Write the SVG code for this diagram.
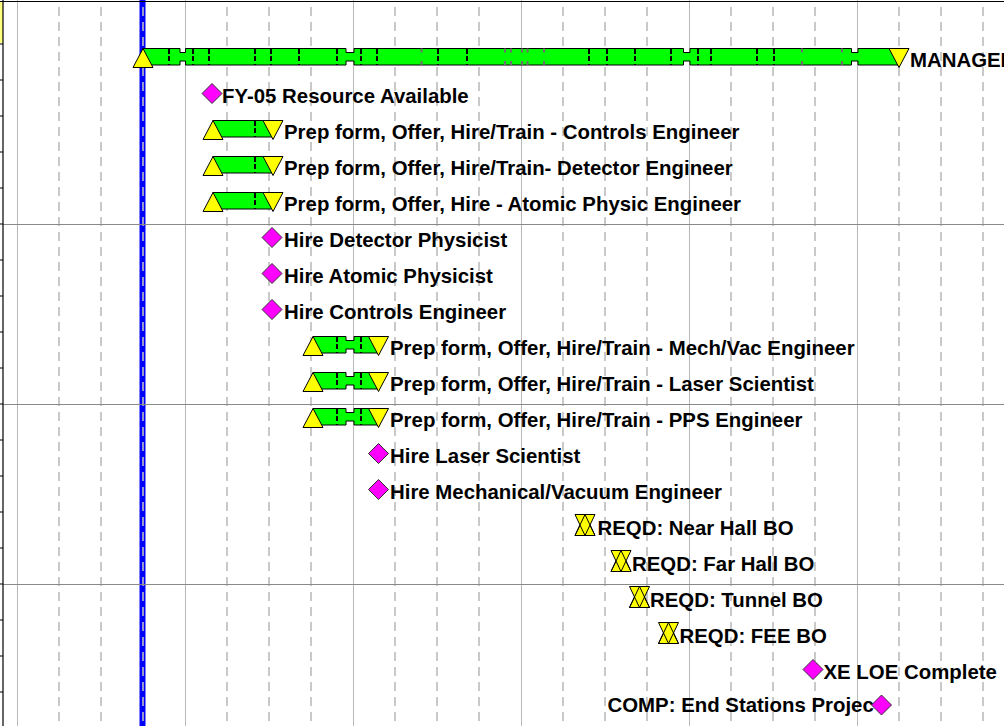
<svg xmlns="http://www.w3.org/2000/svg" xmlns:xlink="http://www.w3.org/1999/xlink" width="1004" height="726" viewBox="0 0 1004 726">
<style>
.lbl{font-family:"Liberation Sans",Arial,sans-serif;font-weight:bold;font-size:20.4px;fill:#000}
.grid-s{stroke:#b8b8b8;stroke-width:1;fill:none}
.grid-d{stroke:#bcbcbc;stroke-width:1.6;fill:none;stroke-dasharray:9,6}
.hline{stroke:#8a8a8a;stroke-width:1;fill:none}
.bar{fill:#00ff00;stroke:#000;stroke-width:1}
.tri{fill:#ffff00;stroke:#000;stroke-width:1;stroke-linejoin:miter}
.tri-o{fill:none;stroke:#000;stroke-width:1}
.dia{fill:#ff00ff;stroke:#333;stroke-width:1}
.tick{stroke:#000;stroke-width:2;stroke-dasharray:5,2.5;fill:none;shape-rendering:crispEdges}
.notch{fill:#6e6e6e}
</style>
<defs>
<path id="up" d="M-10,7.5 L10,7.5 L0,-11.5 Z"/>
<path id="dn" d="M-10,-11.5 L10,-11.5 L0,7.5 Z"/>
<path id="upH" d="M-10,7.5 L10,7.5 L0,-13.5 Z"/>
<path id="dnH" d="M-10,-13.5 L10,-13.5 L0,7.5 Z"/>
<path id="dia" d="M0,-10 L10,0 L0,10 L-10,0 Z"/>
<path id="bar2" d="M313,-11.5 H346 V-7.5 H354 V-11.5 H378.5 V5 H354 V1 H346 V5 H313 Z"/>
<path id="tk2" d="M336.5,-11.5 V5 M360.5,-11.5 V5"/>
<g id="hg">
<use xlink:href="#upH" class="tri"/>
<use xlink:href="#dnH" class="tri"/>
<use xlink:href="#upH" class="tri-o"/>
</g>
</defs>

<g id="background">
<rect x="0" y="0" width="1004" height="726" fill="#ffffff"/>
<rect x="0" y="2" width="3" height="41" fill="#ffff80"/>
<rect x="139.5" y="0" width="6" height="726" fill="#0000ff"/>
<path class="grid-s" d="M17.5,0V726 M185.5,0V726 M353.5,0V726 M521.5,0V726 M689.5,0V726 M857.5,0V726"/>
<path class="grid-d" d="M59,7V726 M101,7V726 M143,7V726 M227,7V726 M269,7V726 M311,7V726 M395,7V726 M437,7V726 M479,7V726 M563,7V726 M605,7V726 M647,7V726 M731,7V726 M773,7V726 M815,7V726 M899,7V726 M941,7V726 M983,7V726"/>
<path class="hline" d="M3,224.5H1004 M3,404.5H1004 M3,584.5H1004"/>
<path stroke="#000" stroke-width="1.2" fill="none" d="M0,1.5H1004 M3,0V726 M0,44H3 M0,80H3 M0,116H3 M0,152H3 M0,188H3 M0,224H3 M0,260H3 M0,296H3 M0,332H3 M0,368H3 M0,404H3 M0,440H3 M0,476H3 M0,512H3 M0,548H3 M0,584H3 M0,620H3 M0,656H3 M0,692H3"/>
</g>

<g id="n-management">
<path class="bar" d="M143,48.5 H180 V52.5 H185.5 V48.5 H346 V52.5 H354 V48.5 H683.5 V52.5 H690 V48.5 H851.5 V52.5 H858 V48.5 H899 V65 H858 V61 H851.5 V65 H690 V61 H683.5 V65 H354 V61 H346 V65 H185.5 V61 H180 V65 H143 Z"/>
<path class="tick" d="M169,48.5V65 M193,48.5V65 M209,48.5V65 M255,48.5V65 M271,48.5V65 M299,48.5V65 M337,48.5V65 M361,48.5V65 M377,48.5V65 M438,48.5V65 M467,48.5V65 M589,48.5V65 M607,48.5V65 M635,48.5V65 M671,48.5V65 M698,48.5V65 M711,48.5V65 M757,48.5V65 M774,48.5V65"/>
<g class="notch">
<rect x="420.5" y="48.5" width="2" height="4"/><rect x="420.5" y="61" width="2" height="4"/>
<rect x="504" y="48.5" width="2" height="4"/><rect x="504" y="61" width="2" height="4"/>
<rect x="510" y="48.5" width="2" height="4"/><rect x="510" y="61" width="2" height="4"/>
<rect x="521" y="48.5" width="2" height="4"/><rect x="521" y="61" width="2" height="4"/>
<rect x="526.5" y="48.5" width="2" height="4"/><rect x="526.5" y="61" width="2" height="4"/>
<rect x="543" y="48.5" width="2" height="4"/><rect x="543" y="61" width="2" height="4"/>
<rect x="801" y="48.5" width="2" height="4"/><rect x="801" y="61" width="2" height="4"/>
<rect x="841" y="48.5" width="2" height="4"/><rect x="841" y="61" width="2" height="4"/>
</g>
<use xlink:href="#up" class="tri" transform="translate(143,60)"/>
<use xlink:href="#dn" class="tri" transform="translate(899,60)"/>
<text class="lbl" x="910" y="67">MANAGEMENT</text>
</g>

<g id="n-fy05">
<use xlink:href="#dia" class="dia" transform="translate(212,93.5)"/>
<text class="lbl" x="222" y="103">FY-05 Resource Available</text>
</g>

<g id="n-prep-controls" transform="translate(0,132)">
<rect class="bar" x="213" y="-11.5" width="60" height="16.5"/>
<path class="tick" d="M255,-11.5V5"/>
<use xlink:href="#up" class="tri" transform="translate(213,0)"/>
<use xlink:href="#dn" class="tri" transform="translate(273,0)"/>
<text class="lbl" x="284" y="7">Prep form, Offer, Hire/Train - Controls Engineer</text>
</g>

<g id="n-prep-detector" transform="translate(0,168)">
<rect class="bar" x="213" y="-11.5" width="60" height="16.5"/>
<path class="tick" d="M255,-11.5V5"/>
<use xlink:href="#up" class="tri" transform="translate(213,0)"/>
<use xlink:href="#dn" class="tri" transform="translate(273,0)"/>
<text class="lbl" x="284" y="7">Prep form, Offer, Hire/Train- Detector Engineer</text>
</g>

<g id="n-prep-atomic" transform="translate(0,204)">
<rect class="bar" x="213" y="-11.5" width="60" height="16.5"/>
<path class="tick" d="M255,-11.5V5"/>
<use xlink:href="#up" class="tri" transform="translate(213,0)"/>
<use xlink:href="#dn" class="tri" transform="translate(273,0)"/>
<text class="lbl" x="284" y="7">Prep form, Offer, Hire - Atomic Physic Engineer</text>
</g>

<g id="n-hire-detector">
<use xlink:href="#dia" class="dia" transform="translate(272,237.5)"/>
<text class="lbl" x="284" y="247">Hire Detector Physicist</text>
</g>
<g id="n-hire-atomic">
<use xlink:href="#dia" class="dia" transform="translate(272,273.5)"/>
<text class="lbl" x="284" y="283">Hire Atomic Physicist</text>
</g>
<g id="n-hire-controls">
<use xlink:href="#dia" class="dia" transform="translate(272,309.5)"/>
<text class="lbl" x="284" y="319">Hire Controls Engineer</text>
</g>

<g id="n-prep-mechvac" transform="translate(0,348)">
<use xlink:href="#bar2" class="bar"/>
<use xlink:href="#tk2" class="tick"/>
<use xlink:href="#up" class="tri" transform="translate(313,0)"/>
<use xlink:href="#dn" class="tri" transform="translate(378.5,0)"/>
<text class="lbl" x="390" y="7">Prep form, Offer, Hire/Train - Mech/Vac Engineer</text>
</g>
<g id="n-prep-laser" transform="translate(0,384)">
<use xlink:href="#bar2" class="bar"/>
<use xlink:href="#tk2" class="tick"/>
<use xlink:href="#up" class="tri" transform="translate(313,0)"/>
<use xlink:href="#dn" class="tri" transform="translate(378.5,0)"/>
<text class="lbl" x="390" y="7">Prep form, Offer, Hire/Train - Laser Scientist</text>
</g>
<g id="n-prep-pps" transform="translate(0,420)">
<use xlink:href="#bar2" class="bar"/>
<use xlink:href="#tk2" class="tick"/>
<use xlink:href="#up" class="tri" transform="translate(313,0)"/>
<use xlink:href="#dn" class="tri" transform="translate(378.5,0)"/>
<text class="lbl" x="390" y="7">Prep form, Offer, Hire/Train - PPS Engineer</text>
</g>

<g id="n-hire-laser">
<use xlink:href="#dia" class="dia" transform="translate(378.5,453.5)"/>
<text class="lbl" x="390" y="463">Hire Laser Scientist</text>
</g>
<g id="n-hire-mech">
<use xlink:href="#dia" class="dia" transform="translate(378.5,489.5)"/>
<text class="lbl" x="390" y="499">Hire Mechanical/Vacuum Engineer</text>
</g>

<g id="n-reqd-near">
<use xlink:href="#hg" transform="translate(585,528)"/>
<text class="lbl" x="597.5" y="535">REQD: Near Hall BO</text>
</g>
<g id="n-reqd-far">
<use xlink:href="#hg" transform="translate(621,564)"/>
<text class="lbl" x="632" y="571">REQD: Far Hall BO</text>
</g>
<g id="n-reqd-tunnel">
<use xlink:href="#hg" transform="translate(639.5,600)"/>
<text class="lbl" x="650" y="607">REQD: Tunnel BO</text>
</g>
<g id="n-reqd-fee">
<use xlink:href="#hg" transform="translate(668.5,636)"/>
<text class="lbl" x="679.5" y="643">REQD: FEE BO</text>
</g>

<g id="n-xe-loe">
<use xlink:href="#dia" class="dia" transform="translate(813,669.5)"/>
<text class="lbl" x="823.5" y="679">XE LOE Complete</text>
</g>
<g id="n-comp">
<text class="lbl" x="607.5" y="711.5">COMP: End Stations Projec</text>
<use xlink:href="#dia" class="dia" transform="translate(881.5,705)"/>
</g>

<g id="connectors"></g>
</svg>
